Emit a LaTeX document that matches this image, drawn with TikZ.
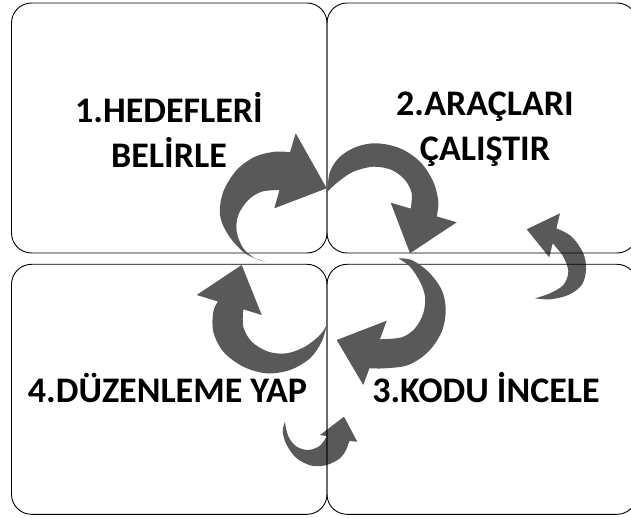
\documentclass[tikz,border=0pt]{standalone}
\usepackage{fontspec}
\setmainfont{Carlito}
\usepackage{xcolor}
\usepackage{tikz}
\usetikzlibrary{
  positioning
}

\definecolor{arrowgray}{RGB}{89,89,89}

\begin{document}
\begin{tikzpicture}[
  x=1pt, y=-1pt,
  panel/.style={
    rectangle,
    draw=black,
    line width=0.9pt,
    rounded corners=20pt,
    minimum width=315.5pt,
    minimum height=250pt,
    inner sep=0pt,
    outer sep=0pt
  },
  widepanel/.style={
    panel,
    minimum width=310pt
  },
  steplabel/.style={
    align=center,
    inner sep=0pt,
    font=\fontsize{36}{45}\selectfont\bfseries
  },
  cyclearrow/.style={
    fill=arrowgray,
    draw=none
  },
  tracing/.style={
    smooth,
    tension=0.55
  }
]
\useasboundingbox (0,0) rectangle (631,518);

% Small Arrows (behind the panels)
\fill[cyclearrow] (560,213.3) -- (526.7,229.3) -- (549.3,257.3) -- (552.7,243.3)
  -- plot[tracing] coordinates {(552.7,243.3) (563.3,256.7) (568.3,271.7) (563.3,285) (550,293.3) (535,298.3)}
  -- plot[tracing] coordinates {(535,298.3) (550,299.3) (568.3,295) (581.7,285) (586,270) (583.3,253.3) (571.7,236.7) (556.4,228.3)}
  -- cycle;
\fill[cyclearrow] (344,416.7) -- (357.3,441.7) -- (349.3,441)
  -- plot[tracing] coordinates {(349.3,441) (346,450) (340,458.3) (326.7,465) (311.7,465.7) (296.7,458.3) (286.7,445) (282.7,431.7) (285,421.7)}
  -- plot[tracing] coordinates {(285,421.7) (286,428.3) (289.3,438.3) (296.7,446.7) (308.3,450) (320,445.7) (326.7,436.2)}
  -- (320,435) -- cycle;

% Step Panels
\node[panel] (hedef) at (169.25,128) {};
\node[widepanel, right=0pt of hedef] (arac) {};
\node[panel, below=11.3pt of hedef] (duzen) {};
\node[widepanel, right=0pt of duzen] (kod) {};

% Cycle Arrows
\fill[cyclearrow] (265,261.7)
  -- plot[tracing] coordinates {(265,261.7) (245,253.3) (228.3,235) (220,215) (223.3,191.7) (236.7,170) (255,156.7) (275,151.7) (290,152.3)}
  -- (295.7,133.3) -- (326.7,188.3) -- (274.3,208.3) -- (279.5,190)
  -- plot[tracing] coordinates {(279.5,190) (261.7,191.7) (248.3,200) (238.3,215) (236.7,231.7) (243.3,248.3) (255,258.3) (265,261.7)}
  -- cycle;
\fill[cyclearrow] (327.3,191.7)
  -- plot[tracing] coordinates {(327.3,191.7) (330,171.7) (340,156.7) (356.7,146.7) (376.7,143.3) (400,148.3) (420,161.7) (433.3,181.7) (438.3,201.7) (436.7,216.4)}
  -- (456.7,222.3) -- (410,253.3) -- (390.7,202.7) -- (410.7,208.6)
  -- plot[tracing] coordinates {(410.7,208.6) (411.7,193.3) (405,180) (391.7,170) (373.3,166.7) (353.3,171.7) (338.3,181.7) (327.3,191.7)}
  -- cycle;
\fill[cyclearrow] (398.3,258.3)
  -- plot[tracing] coordinates {(398.3,258.3) (411.7,260) (428.3,271.7) (441.7,290) (445.7,310) (441.7,331.7) (428.3,351.7) (408.3,365) (385,368.3) (369.4,368.3)}
  -- (363.3,385) -- (336.7,340) -- (386.7,320.7) -- (379.9,339.3)
  -- plot[tracing] coordinates {(379.9,339.3) (401.7,337.3) (415,328.3) (423.3,313.3) (425,296.7) (420,281.7) (410,266.7) (398.3,258.3)}
  -- cycle;
\fill[cyclearrow] (326.7,325)
  -- plot[tracing] coordinates {(326.7,325) (321.7,341.7) (310,358.3) (290,370) (266.7,373.3) (243.3,366.7) (223.3,351.7) (213.3,331.7) (213.3,311.7) (218,301.5)}
  -- (196.7,295) -- (241.7,265) -- (261.7,315) -- (243.3,309.3)
  -- plot[tracing] coordinates {(243.3,309.3) (243.3,326.7) (251.7,341.7) (268.3,351.7) (286.7,353.3) (305,346.7) (320,335) (326.7,325)}
  -- cycle;

% Step Labels
\node[steplabel] (hedefText) at (169,129.5) {1.HEDEFLERİ\\BELİRLE};
\node[steplabel] (aracText) at (485,129.5) {2.ARAÇLARI\\ÇALIŞTIR};
\node[steplabel] (duzenText) at (167.5,388) {4.DÜZENLEME YAP};
\node[steplabel] (kodText) at (486,388) {3.KODU İNCELE};

\end{tikzpicture}
\end{document}
